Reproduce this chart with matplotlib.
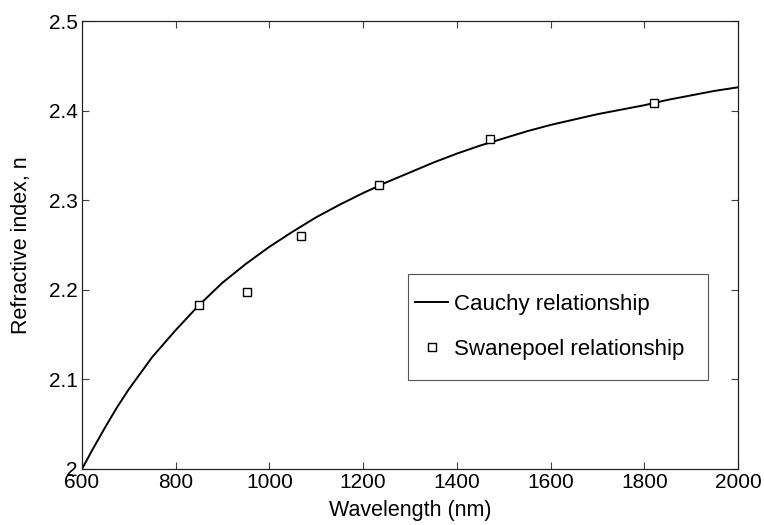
import numpy as np
import matplotlib.pyplot as plt
from matplotlib.patches import Rectangle

plt.rcParams["font.family"] = ['Liberation Sans', 'DejaVu Sans']

# Cauchy relationship curve
wl_cauchy = [600, 625, 650, 675, 700, 750, 800, 850, 900, 950, 1000, 1050, 1100,
             1150, 1200, 1250, 1300, 1350, 1400, 1450, 1500, 1550, 1600, 1650,
             1700, 1750, 1800, 1850, 1900, 1950, 2000]
n_cauchy = [2.000, 2.024, 2.047, 2.069, 2.089, 2.125, 2.155, 2.183, 2.208, 2.229,
            2.248, 2.265, 2.281, 2.295, 2.308, 2.320, 2.331, 2.342, 2.352, 2.361,
            2.369, 2.377, 2.384, 2.390, 2.396, 2.401, 2.406, 2.412, 2.417, 2.422,
            2.426]

# Swanepoel relationship points
wl_swan = [850, 953, 1068, 1233, 1470, 1820]
n_swan = [2.183, 2.198, 2.260, 2.317, 2.368, 2.409]

xticks = [600, 800, 1000, 1200, 1400, 1600, 1800, 2000]
yticks = [2, 2.1, 2.2, 2.3, 2.4, 2.5]
ytick_labels = ['2', '2.1', '2.2', '2.3', '2.4', '2.5']

fig = plt.figure(figsize=(7.64, 5.25), dpi=100)
ax = fig.add_axes([0.1073, 0.1067, 0.8587, 0.8533])

ax.plot(wl_cauchy, n_cauchy, '-', color='k', lw=1.4, label='Cauchy relationship')
ax.plot(wl_swan, n_swan, 's', color='k', mfc='white', mec='k', ms=6, mew=1.0,
        label='Swanepoel relationship')

ax.set_xlim(600, 2000)
ax.set_ylim(2, 2.5)
ax.set_xticks(xticks)
ax.set_yticks(yticks)
ax.set_yticklabels(ytick_labels)
ax.tick_params(direction='in', length=5, width=0.8, top=True, right=True,
               labelsize=15, pad=3, color='#404040')
for s in ax.spines.values():
    s.set_linewidth(0.9)
    s.set_color('#222222')

ax.set_xlabel('Wavelength (nm)', fontsize=15.5, labelpad=6)
ax.set_ylabel('Refractive index, n', fontsize=15.5, labelpad=12)

# legend box drawn separately (MATLAB-like padding)
ax.add_patch(Rectangle((0.497, 0.199), 0.457, 0.236, transform=ax.transAxes,
                       facecolor='white', edgecolor='#555555', lw=0.8, zorder=4))
leg = ax.legend(loc='upper left', bbox_to_anchor=(0.5076, 0.391), fontsize=16,
                frameon=False, handlelength=1.5, handletextpad=0.27,
                labelspacing=1.1, borderpad=0, borderaxespad=0)
leg.set_zorder(5)

fig.savefig('out.png', dpi=100)
